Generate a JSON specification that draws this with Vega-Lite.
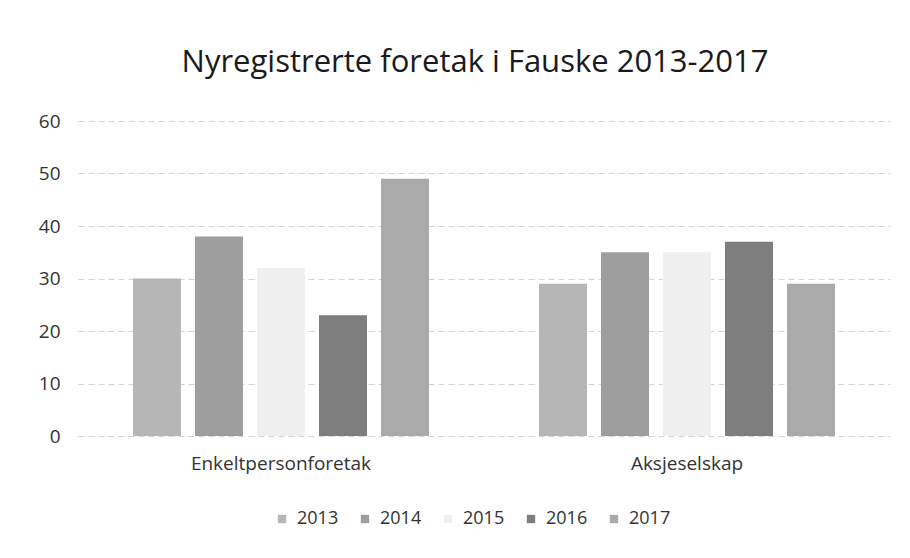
{
  "$schema": "https://vega.github.io/schema/vega-lite/v6.json",
  "autosize": {"type": "none"},
  "width": 812,
  "height": 315,
  "padding": {"left": 78, "top": 121, "right": 20, "bottom": 122},
  "background": "white",
  "title": {
    "text": "Nyregistrerte foretak i Fauske 2013-2017",
    "font": "Open Sans",
    "fontSize": 31,
    "fontWeight": "normal",
    "color": "#1a1a1a",
    "baseline": "alphabetic",
    "offset": 9,
    "anchor": "middle",
    "dx": -9
  },
  "data": {
    "values": [
      {"type": "Enkeltpersonforetak", "year": "2013", "value": 30},
      {"type": "Enkeltpersonforetak", "year": "2014", "value": 38},
      {"type": "Enkeltpersonforetak", "year": "2015", "value": 32},
      {"type": "Enkeltpersonforetak", "year": "2016", "value": 23},
      {"type": "Enkeltpersonforetak", "year": "2017", "value": 49},
      {"type": "Aksjeselskap", "year": "2013", "value": 29},
      {"type": "Aksjeselskap", "year": "2014", "value": 35},
      {"type": "Aksjeselskap", "year": "2015", "value": 35},
      {"type": "Aksjeselskap", "year": "2016", "value": 37},
      {"type": "Aksjeselskap", "year": "2017", "value": 29}
    ]
  },
  "mark": {"type": "bar"},
  "encoding": {
    "x": {
      "field": "type",
      "type": "nominal",
      "sort": ["Enkeltpersonforetak", "Aksjeselskap"],
      "scale": {"paddingInner": 0, "paddingOuter": 0},
      "axis": {
        "title": null,
        "labelAngle": 0,
        "labelFont": "Open Sans",
        "labelFontSize": 19,
        "labelColor": "#333333",
        "labelPadding": 18,
        "labelLimit": 0,
        "ticks": false,
        "domain": false,
        "grid": false
      }
    },
    "xOffset": {
      "field": "year",
      "type": "nominal",
      "scale": {"paddingInner": 0.226, "paddingOuter": 0.887}
    },
    "y": {
      "field": "value",
      "type": "quantitative",
      "scale": {"domain": [0, 60]},
      "axis": {
        "title": null,
        "values": [0, 10, 20, 30, 40, 50, 60],
        "labelFont": "Open Sans",
        "labelFontSize": 19,
        "labelColor": "#333333",
        "labelPadding": 18,
        "ticks": false,
        "domain": false,
        "grid": true,
        "gridColor": "#d4d4d4",
        "gridWidth": 1,
        "gridDash": [6, 4]
      }
    },
    "color": {
      "field": "year",
      "type": "nominal",
      "scale": {
        "domain": ["2013", "2014", "2015", "2016", "2017"],
        "range": ["#b6b6b6", "#9e9e9e", "#f0f0f0", "#7e7e7e", "#aaaaaa"]
      },
      "legend": {
        "title": null,
        "orient": "none",
        "legendX": 195,
        "legendY": 389,
        "direction": "horizontal",
        "columns": 5,
        "symbolType": "square",
        "symbolSize": 70,
        "symbolStrokeWidth": 0,
        "labelFont": "Open Sans",
        "labelFontSize": 18,
        "labelColor": "#333333",
        "labelOffset": 6,
        "columnPadding": 17
      }
    }
  },
  "config": {"view": {"stroke": null}}
}
